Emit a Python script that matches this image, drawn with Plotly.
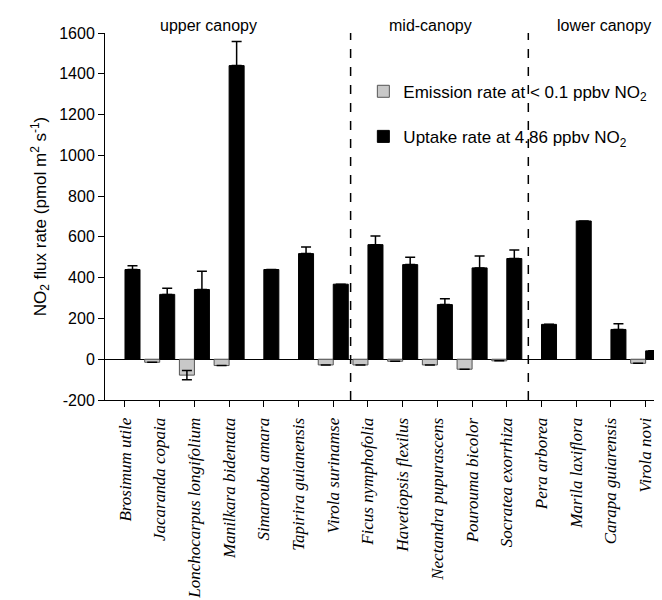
import plotly.graph_objects as go

species = ["Brosimum utile", "Jacaranda copaia", "Lonchocarpus longifolium",
           "Manilkara bidentata", "Simarouba amara", "Tapirira guianensis",
           "Virola surinamse", "Ficus nymphofolia", "Havetiopsis flexilus",
           "Nectandra pupurascens", "Pourouma bicolor", "Socratea exorrhiza",
           "Pera arborea", "Marila laxiflora", "Carapa guiarensis", "Virola novi"]

emission = [None, -15, -78, -31, None, None, -28, -28, -10, -28, -49, -8,
            None, None, None, -20]
emission_err = [0, 0, 23, 0, 0, 0, 0, 0, 0, 0, 0, 0, 0, 0, 0, 0]

uptake = [440, 318, 342, 1440, 440, 518, 368, 562, 464, 268, 448, 494,
          171, 678, 146, 41]
uptake_err = [18, 30, 90, 118, 0, 33, 0, 42, 36, 28, 58, 42, 0, 0, 28, 0]

zone_labels = ["upper canopy", "mid-canopy", "lower canopy"]
zone_label_x = [2.4, 8.8, 13.8]
zone_bounds = [6.5, 11.62]

y_ticks = [-200, 0, 200, 400, 600, 800, 1000, 1200, 1400, 1600]
y_tick_text = ["-200", "0", "200", "400", "600", "800", "1000", "1200", "1400", "1600"]

x_idx = list(range(len(species)))

fig = go.Figure()
fig.add_trace(go.Bar(
    x=x_idx, y=emission, name="Emission rate at < 0.1 ppbv NO<sub>2</sub>",
    marker=dict(color="#c8c8c8", line=dict(color="#555555", width=1)),
    error_y=dict(type="data", array=emission_err, symmetric=True,
                 color="black", thickness=1.5, width=5),
    legendgroup="a",
))
fig.add_trace(go.Bar(
    x=x_idx, y=uptake, name="Uptake rate at 4.86 ppbv NO<sub>2</sub>",
    marker=dict(color="black", line=dict(color="black", width=1)),
    error_y=dict(type="data", array=uptake_err,
                 arrayminus=[0] * len(uptake_err), symmetric=False,
                 color="black", thickness=1.5, width=5),
    legendgroup="b",
))

for xb in zone_bounds:
    fig.add_shape(type="line", x0=xb, x1=xb, y0=-200, y1=1600, xref="x", yref="y",
                  line=dict(color="black", width=1.5, dash="dash"))

for lab, xl in zip(zone_labels, zone_label_x):
    fig.add_annotation(x=xl, y=1.0, xref="x", yref="paper", text=lab,
                       showarrow=False, yanchor="bottom", yshift=-3,
                       font=dict(family="Liberation Sans, Arial", size=16, color="black"))

fig.update_layout(
    width=662, height=600,
    margin=dict(l=97, r=7, t=25, b=208),
    paper_bgcolor="white", plot_bgcolor="white",
    barmode="group", bargap=0.135, bargroupgap=0,
    font=dict(family="Liberation Sans, Arial", size=16, color="black"),
    legend=dict(x=0.463, y=0.889, xanchor="left", yanchor="top",
                bgcolor="rgba(0,0,0,0)", traceorder="grouped",
                tracegroupgap=20, font=dict(size=17)),
    xaxis=dict(range=[-0.576, 15.5], tickvals=x_idx, ticktext=species,
               tickangle=-90, showline=True, linecolor="black", linewidth=1,
               ticks="outside", ticklen=6, tickcolor="black", showgrid=False,
               zeroline=False, ticklabelstandoff=4,
               tickfont=dict(family="Liberation Serif, Times New Roman", size=17,
                             style="italic")),
    yaxis=dict(range=[-200, 1600], tickvals=y_ticks, ticktext=y_tick_text,
               showline=True,
               linecolor="black", linewidth=1, ticks="outside", ticklen=6,
               tickcolor="black", showgrid=False, zeroline=True,
               zerolinecolor="black", zerolinewidth=1,
               tickfont=dict(size=16),
               title=dict(text="NO<sub>2</sub> flux rate (pmol m<sup>2</sup> s<sup>-1</sup>)",
                          font=dict(size=17), standoff=8)),
)

fig.write_html("out.html")
